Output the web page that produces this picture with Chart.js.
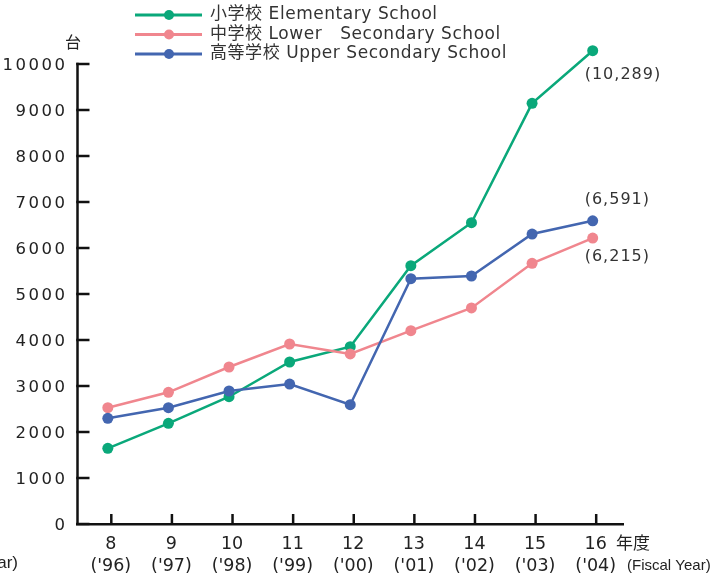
<!DOCTYPE html>
<html><head><meta charset="utf-8">
<script src="https://cdn.jsdelivr.net/npm/chart.js@4.4.1/dist/chart.umd.min.js"></script>
<style>html,body{margin:0;padding:0;background:#fff;overflow:hidden}#wrap{width:727px;height:574px;position:relative}</style>
</head><body><div id="wrap"><canvas id="c" width="727" height="574"></canvas></div>
<script>
const years = ['8','9','10','11','12','13','14','15','16'];
const westernYears = ["('96)","('97)","('98)","('99)","('00)","('01)","('02)","('03)","('04)"];
const seriesNames = ['小学校 Elementary School','中学校 Lower   Secondary School','高等学校 Upper Secondary School'];
const elementary = [1646, 2189, 2767, 3522, 3855, 5616, 6550, 9145, 10289];
const lowerSecondary = [2528, 2863, 3413, 3913, 3696, 4203, 4696, 5667, 6215];
const upperSecondary = [2298, 2528, 2891, 3043, 2594, 5333, 5391, 6304, 6591];
const yTicks = [0,1000,2000,3000,4000,5000,6000,7000,8000,9000,10000];
const unitLabel = '台';
const yearUnit = '年度';
const fiscalYearLabel = '(Fiscal Year)';
const colors = ['#0aa87a','#f0868e','#4366b0'];
const FONT = '"DejaVu Sans", "Noto Sans CJK JP"';

const decor = {
  id:'decor',
  beforeDatasetsDraw(chart){
    const {ctx, chartArea:a, scales:{x,y}} = chart;
    ctx.save();
    ctx.strokeStyle='#111'; ctx.lineWidth=2.5;
    const top=y.getPixelForValue(10000);
    ctx.beginPath();ctx.moveTo(a.left,a.bottom+1);ctx.lineTo(a.left,top-1.25);ctx.stroke();
    yTicks.forEach(v=>{const py=y.getPixelForValue(v);ctx.beginPath();ctx.moveTo(a.left-1.25,py);ctx.lineTo(a.left+12,py);ctx.stroke();});
    years.forEach((_,i)=>{const px=x.getPixelForValue(i)+3.5;ctx.beginPath();ctx.moveTo(px,a.bottom);ctx.lineTo(px,a.bottom-10);ctx.stroke();});
    ctx.fillStyle='#222';ctx.font='16.5px '+FONT;ctx.letterSpacing='2.5px';ctx.textAlign='right';ctx.textBaseline='middle';
    yTicks.forEach(v=>ctx.fillText(String(v),67.5,y.getPixelForValue(v)+2));
    ctx.letterSpacing='0px';
    ctx.textAlign='center';ctx.font='16px "Noto Sans CJK JP"';
    ctx.fillText(unitLabel,73,42);
    ctx.textAlign='left';ctx.font='17px "Noto Sans CJK JP"';
    ctx.fillText(yearUnit,616,543);
    ctx.font='15px "Liberation Sans Narrow", "Liberation Sans"';
    ctx.fillText(fiscalYearLabel,627,566);
    ctx.textAlign='right';ctx.font='17px "Liberation Sans Narrow", "Liberation Sans"';
    ctx.fillText(fiscalYearLabel,18,563);
    ctx.restore();
  },
  afterDraw(chart){
    const {ctx} = chart;
    ctx.save();
    chart.data.datasets.forEach((ds,i)=>{
      const yy=15+19.5*i;
      ctx.strokeStyle=ds.borderColor;ctx.lineWidth=3;
      ctx.beginPath();ctx.moveTo(135,yy);ctx.lineTo(202,yy);ctx.stroke();
      ctx.fillStyle=ds.borderColor;ctx.beginPath();ctx.arc(169,yy,5,0,Math.PI*2);ctx.fill();
      ctx.fillStyle='#333';ctx.font='17px '+FONT;ctx.letterSpacing='0.55px';ctx.textAlign='left';ctx.textBaseline='middle';
      ctx.fillText(ds.label,210,yy);
    });
    const offs=[24,19,-21];
    ctx.font='16px '+FONT;ctx.letterSpacing='1px';ctx.fillStyle='#333';ctx.textAlign='left';ctx.textBaseline='middle';
    chart.data.datasets.forEach((ds,i)=>{
      const meta=chart.getDatasetMeta(i);const p=meta.data[meta.data.length-1];
      const v=ds.data[ds.data.length-1];
      ctx.fillText('('+v.toLocaleString('en-US')+')',p.x-8,p.y+offs[i]);
    });
    ctx.restore();
  }
};

const mk=(label,data,i,order)=>({label,data,borderColor:colors[i],backgroundColor:colors[i],pointBackgroundColor:colors[i],pointBorderWidth:0,pointRadius:5.5,borderWidth:2.5,tension:0,clip:false,order});

new Chart(document.getElementById('c'),{
  type:'line',
  data:{labels:years.map((v,i)=>[v,westernYears[i]]),
    datasets:[mk(seriesNames[0],elementary,0,2),mk(seriesNames[1],lowerSecondary,1,1),mk(seriesNames[2],upperSecondary,2,0)]},
  options:{
    responsive:false,animation:false,devicePixelRatio:1,
    layout:{padding:{left:77.5,right:104,top:41,bottom:0}},
    plugins:{legend:{display:false},tooltip:{enabled:false}},
    scales:{
      x:{type:'category',offset:true,grid:{display:false,drawTicks:false},border:{display:true,color:'#111',width:2.5},
        afterFit(s){s.height=50;},
        ticks:{font:{size:17.5,family:'"DejaVu Sans"',lineHeight:1.25},color:'#222',padding:10,labelOffset:3,maxRotation:0,autoSkip:false}},
      y:{min:0,max:10500,grid:{display:false,drawTicks:false},border:{display:false},
        ticks:{display:false,stepSize:1000}}
    }
  },
  plugins:[decor]
});
</script></body></html>
